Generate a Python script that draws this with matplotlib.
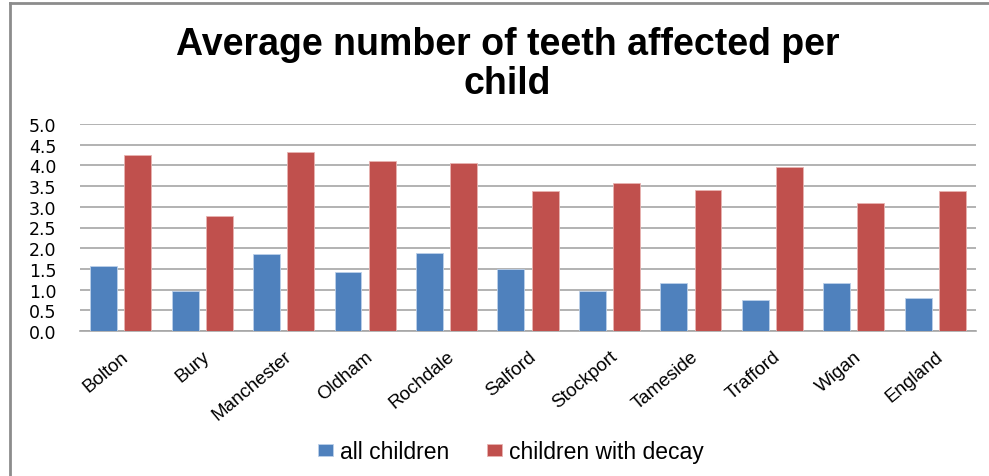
import numpy as np
import matplotlib
matplotlib.use("Agg")
import matplotlib.pyplot as plt
from matplotlib.lines import Line2D

areas = ["Bolton", "Bury", "Manchester", "Oldham", "Rochdale", "Salford",
         "Stockport", "Tameside", "Trafford", "Wigan", "England"]
all_children = [1.57, 0.96, 1.85, 1.42, 1.89, 1.50, 0.96, 1.16, 0.75, 1.16, 0.79]
with_decay = [4.24, 2.78, 4.33, 4.10, 4.05, 3.38, 3.57, 3.41, 3.97, 3.08, 3.38]
y_ticks = [0.0, 0.5, 1.0, 1.5, 2.0, 2.5, 3.0, 3.5, 4.0, 4.5, 5.0]

plt.rcParams["font.family"] = ["Liberation Sans", "DejaVu Sans"]

fig = plt.figure(figsize=(9.89, 4.77), dpi=100)
ax = fig.add_axes([80 / 989, 1 - 332 / 477, 896 / 989, 207 / 477])

x = np.arange(len(areas))
w = 0.33
ax.bar(x - 0.21, all_children, w, color="#4F81BD", label="all children",
       edgecolor="#bcd0ea", linewidth=0.6, zorder=3)
ax.bar(x + 0.21, with_decay, w, color="#C0504D", label="children with decay",
       edgecolor="#e8b4b2", linewidth=0.6, zorder=3)

ax.set_xlim(-0.5, len(areas) - 0.5)
ax.set_ylim(0, 5)
ax.set_yticks(y_ticks)
ax.set_yticklabels([f"{v:.1f}" for v in y_ticks], fontsize=12.5,
                   family="DejaVu Sans")
ax.set_xticks(x)
ax.set_xticklabels(areas, rotation=40, ha="right", rotation_mode="anchor", fontsize=13.5)
ax.tick_params(axis="y", length=0, pad=17)
ax.tick_params(axis="x", length=0, pad=12)
ax.yaxis.grid(True, color="#a6a6a6", linewidth=1.2, zorder=0)
for s in ["top", "right", "left"]:
    ax.spines[s].set_visible(False)
ax.spines["bottom"].set_color("#a6a6a6")
ax.spines["bottom"].set_linewidth(1.2)

fig.text(0.513, 0.864, "Average number of teeth affected per\nchild",
         ha="center", va="center", fontsize=27, fontweight="bold", linespacing=1.1)

fig.legend(loc="center", bbox_to_anchor=(511 / 989, 1 - 453 / 477), ncol=2,
           frameon=False, fontsize=16.5, handlelength=0.65, handleheight=0.45,
           columnspacing=1.65, handletextpad=0.3)

# chart frame: only left and top edges visible in the reference
fig.lines.append(Line2D([10 / 989, 10 / 989], [0, 1 - 4 / 477], transform=fig.transFigure,
                        color="#8c8c8c", linewidth=2))
fig.lines.append(Line2D([10 / 989, 1], [1 - 4 / 477, 1 - 4 / 477], transform=fig.transFigure,
                        color="#8c8c8c", linewidth=2))

fig.savefig("out.png", dpi=100)
